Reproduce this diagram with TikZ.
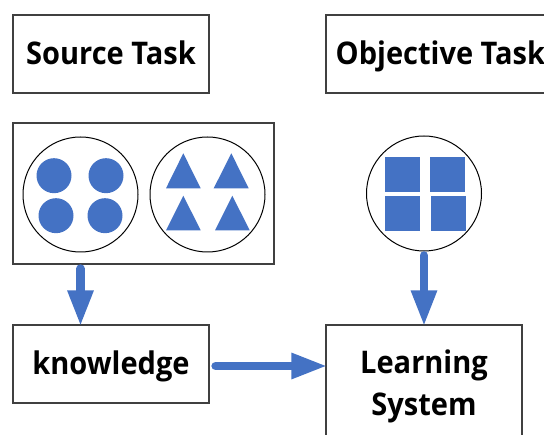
\documentclass[tikz,border=0pt]{standalone}
\usepackage{fontspec}
\setmainfont{Open Sans}[FakeStretch=0.93]
\usetikzlibrary{arrows.meta}
\definecolor{shapeblue}{RGB}{68,114,196}
\tikzset{
  boxline/.style={draw=black!75,line width=1.2pt,inner sep=0pt},
  boxfont/.style={font=\bfseries\fontsize{31.2}{42}\selectfont},
  textbox/.style={boxline,boxfont,minimum width=196pt,minimum height=78pt,align=center},
  oneline/.style={text height=22pt,text depth=0pt},
  ring/.style={draw=black,line width=1pt,circle,minimum size=115pt,inner sep=0pt},
  dot/.style={fill=shapeblue,circle,minimum size=35pt,inner sep=0pt},
  tile/.style={fill=shapeblue,minimum size=35pt,inner sep=0pt},
  flow/.style={draw=shapeblue,line width=8.5pt,line cap=round,-{Triangle[length=36pt,width=24pt]},shorten <=4pt,shorten >=-2pt}
}
\begin{document}
\begin{tikzpicture}[x=1pt,y=-1pt]
\useasboundingbox (0,0) rectangle (544,435);
\clip (0,0) rectangle (544,435);
\node[textbox,oneline] (source) at (111,54) {Source Task};
\node[boxline,minimum width=230pt,minimum height=78pt] (objectivebox) at (441,54) {};
\node[boxfont,oneline,anchor=west,inner sep=0pt] (objective) at (335.5,54) {Objective Task};
\node[boxline,minimum width=261pt,minimum height=141pt] (pool) at (143.5,193.5) {};
\node[textbox,oneline] (knowledge) at (111,364) {knowledge};
\node[textbox,minimum height=122pt] (learning) at (424,386) {Learning\\System};
\node[ring] (dots) at (80.5,194.5) {};
\node[ring] (triangles) at (207.5,194.5) {};
\node[ring] (squares) at (424,193.5) {};
\node[dot] (dota) at (54,175.7) {};
\node[dot] (dotb) at (106,175.7) {};
\node[dot] (dotc) at (56,215.7) {};
\node[dot] (dotd) at (105,215.7) {};
\fill[shapeblue] (183.3,153.3) -- (200.7,188.3) -- (166,188.3) -- cycle;
\fill[shapeblue] (231.3,153.3) -- (248.7,188.3) -- (213.7,188.3) -- cycle;
\fill[shapeblue] (183.3,195.7) -- (200.7,230.3) -- (166,230.3) -- cycle;
\fill[shapeblue] (232.3,195.7) -- (249.7,230.3) -- (215,230.3) -- cycle;
\node[tile] (tilea) at (402.7,174.3) {};
\node[tile] (tileb) at (447.5,174.3) {};
\node[tile] (tilec) at (402.7,213.5) {};
\node[tile] (tiled) at (448.2,213.5) {};
\draw[flow] (dots |- pool.south) -- (dots |- knowledge.north);
\draw[flow] (squares.south) -- (squares |- learning.north);
\draw[flow] ([xshift=2pt,yshift=-2pt]knowledge.east) -- ([yshift=-2pt]knowledge.east -| learning.west);
\end{tikzpicture}
\end{document}
